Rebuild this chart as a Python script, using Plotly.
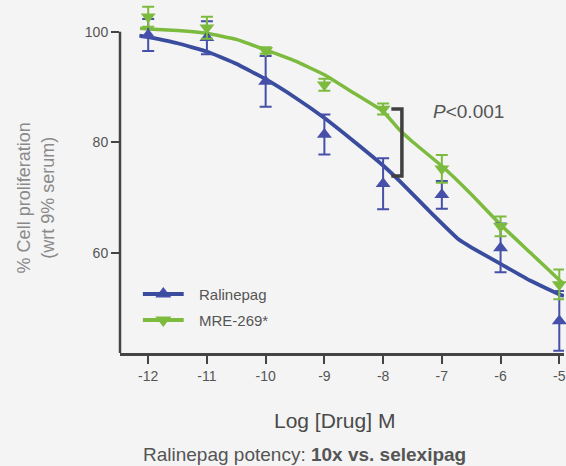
import plotly.graph_objects as go

# ---- data ----
log_dose = [-12, -11, -10, -9, -8, -7, -6, -5]
tick_labels = ["-12", "-11", "-10", "-9", "-8", "-7", "-6", "-5"]

ral_mean = [99.4, 98.9, 91.0, 81.4, 72.5, 70.5, 60.9, 47.7]
ral_err = [2.9, 3.0, 4.6, 3.6, 4.6, 2.5, 4.4, 5.4]

mre_mean = [102.7, 100.7, 96.6, 90.4, 86.0, 75.2, 64.8, 54.3]
mre_err = [1.8, 2.0, 0.6, 1.1, 1.0, 2.5, 1.8, 2.7]

# fitted curves
ral_curve_x = [-12.15, -12.0, -11.5, -11.0, -10.5, -10.0, -9.5, -9.0, -8.5, -8.0,
               -7.7, -7.17, -6.71, -6.5, -6.0, -5.5, -5.0, -4.92]
ral_curve_y = [99.3, 99.0, 97.9, 96.4, 94.2, 91.4, 88.1, 84.4, 80.2, 75.8,
               72.8, 67.1, 62.4, 61.0, 58.0, 55.0, 52.5, 52.2]

mre_curve_x = [-12.14, -12.0, -11.5, -11.0, -10.5, -10.0, -9.5, -9.0, -8.5, -8.0,
               -7.72, -7.5, -7.0, -6.5, -6.0, -5.5, -5.0, -4.92]
mre_curve_y = [100.6, 100.5, 100.2, 99.7, 98.6, 96.7, 94.7, 92.2, 88.9, 85.6,
               82.2, 80.1, 75.7, 70.6, 65.1, 60.1, 55.1, 54.4]

series_names = ["Ralinepag", "MRE-269*"]
y_ticks = [60, 80, 100]
y_axis_span = [41.9, 100]

# bracket for significance (data units)
bracket_x = [-7.86, -7.68]
bracket_y = [86.0, 73.9]
p_label_pos = (-7.18, 85.5)

BLUE_LINE = "#3a4c9e"
BLUE_MK = "#4650a8"
GREEN = "#7cbb3e"
BG = "#f4f4f4"
AX = "#444444"
FONT = "Liberation Sans, Arial, sans-serif"

# plot area geometry (pixels) for paper-coordinate placement
L, R, T, B = 120, 0, 4, 113
W, H = 566, 466
PW, PH = W - L - R, H - T - B


def px(x):
    return (x - L) / PW


def py(y):
    return (H - B - y) / PH


fig = go.Figure()

fig.add_trace(go.Scatter(x=ral_curve_x, y=ral_curve_y, mode="lines",
                         line=dict(color=BLUE_LINE, width=3.8, shape="spline", smoothing=0.3),
                         showlegend=False, cliponaxis=False, hoverinfo="skip"))
fig.add_trace(go.Scatter(x=mre_curve_x, y=mre_curve_y, mode="lines",
                         line=dict(color=GREEN, width=3.5, shape="spline", smoothing=0.3),
                         showlegend=False, cliponaxis=False, hoverinfo="skip"))

fig.add_trace(go.Scatter(x=log_dose, y=ral_mean, mode="markers",
                         marker=dict(symbol="triangle-up", size=13, color=BLUE_MK),
                         error_y=dict(type="data", array=ral_err, color=BLUE_MK, thickness=2, width=6),
                         showlegend=False, cliponaxis=False))
fig.add_trace(go.Scatter(x=log_dose, y=mre_mean, mode="markers",
                         marker=dict(symbol="triangle-down", size=13, color=GREEN),
                         error_y=dict(type="data", array=mre_err, color=GREEN, thickness=2, width=6),
                         showlegend=False, cliponaxis=False))

# y axis line only spanning the labelled range
fig.add_shape(type="line", xref="paper", yref="y", x0=0, x1=0,
              y0=y_axis_span[0], y1=y_axis_span[1], line=dict(color=AX, width=2.5))

# custom legend
legend_rows = [(294, BLUE_LINE, BLUE_MK, "triangle-up"), (320, GREEN, GREEN, "triangle-down")]
for name, (ly, lc, mc, sym) in zip(series_names, legend_rows):
    fig.add_shape(type="line", xref="paper", yref="paper",
                  x0=px(143), x1=px(184), y0=py(ly), y1=py(ly),
                  line=dict(color=lc, width=4))
    fig.add_trace(go.Scatter(x=[px(163.5)], y=[py(ly)], xaxis="x2", yaxis="y2",
                             mode="markers", marker=dict(symbol=sym, size=14, color=mc),
                             showlegend=False, cliponaxis=False, hoverinfo="skip"))
    fig.add_annotation(x=px(197), y=py(ly), xref="paper", yref="paper", text=name,
                       showarrow=False, xanchor="left", yanchor="middle",
                       font=dict(size=15, color="#555555", family=FONT))

# bracket
fig.add_shape(type="path",
              path=f"M {bracket_x[0]} {bracket_y[0]} L {bracket_x[1]} {bracket_y[0]} "
                   f"L {bracket_x[1]} {bracket_y[1]} L {bracket_x[0]} {bracket_y[1]}",
              xref="x", yref="y", line=dict(color="#404040", width=3.5))

fig.add_annotation(x=p_label_pos[0], y=p_label_pos[1], xref="x", yref="y",
                   text="<i>P</i>&lt;0.001", showarrow=False, xanchor="left", yanchor="middle",
                   font=dict(size=19, color="#555555", family=FONT))

# axis titles / caption
fig.add_annotation(x=px(35), y=py(198), xref="paper", yref="paper",
                   text="% Cell proliferation<br>(wrt 9% serum)", textangle=-90,
                   showarrow=False, xanchor="center", yanchor="middle", align="center",
                   font=dict(size=18, color="#8a8a8a", family=FONT))
fig.add_annotation(x=px(335), y=py(420), xref="paper", yref="paper",
                   text="Log [Drug] M", showarrow=False, xanchor="center", yanchor="middle",
                   font=dict(size=21, color="#4a4a4a", family=FONT))
fig.add_annotation(x=px(305), y=py(454), xref="paper", yref="paper",
                   text="Ralinepag potency: <b>10x vs. selexipag</b>", showarrow=False,
                   xanchor="center", yanchor="middle",
                   font=dict(size=19, color="#555555", family=FONT))

fig.update_layout(
    width=W, height=H,
    margin=dict(l=L, r=R, t=T, b=B, pad=0),
    paper_bgcolor=BG, plot_bgcolor=BG,
    font=dict(family=FONT, color="#555555", size=14),
    showlegend=False,
    xaxis=dict(range=[-12.48, -4.92], tickvals=log_dose, ticktext=tick_labels,
               showgrid=False, zeroline=False, showline=True, linecolor=AX, linewidth=2.5,
               ticks="outside", ticklen=8, tickwidth=2, tickcolor=AX,
               ticklabeloverflow="allow",
               tickfont=dict(size=14, color="#555555", family=FONT)),
    yaxis=dict(range=[41.9, 105.0], tickvals=y_ticks,
               showgrid=False, zeroline=False, showline=False,
               ticks="outside", ticklen=8, tickwidth=2, tickcolor=AX,
               tickfont=dict(size=14, color="#555555", family=FONT)),
    xaxis2=dict(overlaying="x", range=[0, 1], visible=False),
    yaxis2=dict(overlaying="y", range=[0, 1], visible=False),
)

fig.write_html("out.html", config={"displayModeBar": False},
               post_script="document.body.style.margin='0';document.body.style.overflow='hidden';")
